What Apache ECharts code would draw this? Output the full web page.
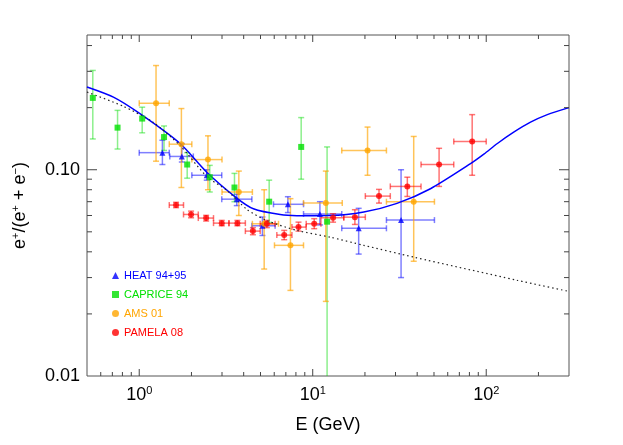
<!DOCTYPE html>
<html>
<head>
<meta charset="utf-8">
<script src="https://cdn.jsdelivr.net/npm/echarts@6/dist/echarts.min.js"></script>
<style>
html, body { margin: 0; padding: 0; background: #fff; }
#main { width: 623px; height: 445px; }
</style>
</head>
<body>
<div id="main"></div>
<script>
// positron fraction e+/(e+ + e-) against energy, log-log
// rows: [E, ratio, E low, E high, ratio low, ratio high]
var heat = [
  [1.36, 0.121, 1.0, 1.49, 0.106, 0.139],
  [1.76, 0.116, 1.50, 2.05, 0.109, 0.134],
  [2.45, 0.094, 2.01, 2.99, 0.089, 0.100],
  [3.65, 0.072, 2.99, 4.46, 0.067, 0.076],
  [5.13, 0.0535, 4.46, 6.07, 0.048, 0.059],
  [7.19, 0.068, 5.94, 8.85, 0.062, 0.074],
  [11.0, 0.061, 8.85, 14.7, 0.054, 0.070],
  [18.4, 0.052, 14.7, 26.6, 0.039, 0.065],
  [32.3, 0.057, 26.6, 50.3, 0.030, 0.100]
];
// CAPRICE has no energy bins, so low/high E equal E
var caprice = [
  [0.54, 0.223, 0.54, 0.54, 0.141, 0.303],
  [0.75, 0.160, 0.75, 0.75, 0.126, 0.194],
  [1.04, 0.177, 1.04, 1.04, 0.151, 0.201],
  [1.39, 0.144, 1.39, 1.39, 0.124, 0.163],
  [1.89, 0.106, 1.89, 1.89, 0.091, 0.121],
  [2.55, 0.092, 2.55, 2.55, 0.078, 0.105],
  [3.54, 0.082, 3.54, 3.54, 0.070, 0.096],
  [5.61, 0.070, 5.61, 5.61, 0.0555, 0.089],
  [8.58, 0.129, 8.58, 8.58, 0.090, 0.179],
  [12.1, 0.056, 12.1, 12.1, 0.005, 0.129]
];
var ams = [
  [1.25, 0.210, 1.0, 1.49, 0.110, 0.320],
  [1.75, 0.133, 1.49, 2.01, 0.082, 0.198],
  [2.49, 0.112, 2.01, 3.0, 0.080, 0.146],
  [3.75, 0.078, 3.0, 4.49, 0.060, 0.0985],
  [5.25, 0.0547, 4.49, 6.35, 0.033, 0.080],
  [7.44, 0.043, 6.02, 8.85, 0.026, 0.0724],
  [11.9, 0.069, 8.85, 14.8, 0.023, 0.0985],
  [20.7, 0.124, 14.7, 26.6, 0.094, 0.161],
  [38.2, 0.070, 26.6, 50.3, 0.036, 0.145]
];
var pamela = [
  [1.63, 0.0674, 1.49, 1.80, 0.0655, 0.0695],
  [1.99, 0.0607, 1.80, 2.19, 0.0585, 0.063],
  [2.43, 0.0583, 2.19, 2.68, 0.0564, 0.0601],
  [2.99, 0.0551, 2.68, 3.29, 0.0535, 0.0568],
  [3.68, 0.0551, 3.29, 4.09, 0.0535, 0.0568],
  [4.52, 0.0504, 4.09, 4.98, 0.0484, 0.0524],
  [5.44, 0.0547, 4.98, 6.07, 0.0524, 0.0568],
  [6.85, 0.0482, 6.21, 7.59, 0.0458, 0.0508],
  [8.28, 0.0527, 7.59, 9.17, 0.0504, 0.0557],
  [10.2, 0.0547, 9.17, 11.15, 0.0518, 0.0579],
  [13.1, 0.0585, 11.15, 15.1, 0.0557, 0.0612],
  [17.5, 0.0589, 15.1, 20.1, 0.0543, 0.064],
  [24.1, 0.0745, 20.1, 28.0, 0.0689, 0.0803],
  [35.1, 0.083, 28.0, 42.1, 0.0742, 0.092],
  [53.5, 0.106, 42.1, 65.0, 0.083, 0.127],
  [83.0, 0.137, 65.0, 100, 0.094, 0.185]
];

// model curves [E, ratio]
var modelCurve = [
  [0.5, 0.252], [0.71, 0.225], [1.01, 0.187], [1.72, 0.134], [2.45, 0.0973],
  [3.65, 0.0729], [4.55, 0.0647], [6.49, 0.0606], [8.11, 0.0599], [12.6, 0.0600],
  [19.7, 0.0624], [30.6, 0.0687], [47.7, 0.0809], [81.2, 0.107], [96.9, 0.119],
  [116, 0.134], [144, 0.152], [180, 0.170], [225, 0.185], [300, 0.200]
];
var secondaryCurve = [
  [0.5, 0.238], [0.81, 0.203], [1.2, 0.170], [1.72, 0.131], [2.45, 0.0928],
  [3.2, 0.0794], [4.17, 0.0643], [5.44, 0.0567], [8.11, 0.0508], [12.6, 0.0471],
  [19.7, 0.043], [38.2, 0.0377], [151, 0.0291], [300, 0.0257]
];

// axis limits and tick marks
var xRange = [0.5, 300];
var yRange = [0.01, 0.45];
var xTicks = [0.6, 0.7, 0.8, 0.9, 1, 2, 3, 4, 5, 6, 7, 8, 9, 10, 20, 30, 40, 50, 60, 70, 80, 90, 100, 200];
var xMajor = [1, 10, 100];
var yTicks = [0.02, 0.03, 0.04, 0.05, 0.06, 0.07, 0.08, 0.09, 0.1, 0.2, 0.3, 0.4];
var yMajor = [0.1];

var font = 'Liberation Sans';

function seg(x1, y1, x2, y2, color, w) {
  return { type: 'line', shape: { x1: x1, y1: y1, x2: x2, y2: y2 }, style: { stroke: color, lineWidth: w } };
}

function errorBars(color) {
  return function (params, api) {
    var x = api.value(0), y = api.value(1);
    var c = api.coord([x, y]);
    var cap = 3;
    var out = [];
    if (api.value(2) !== api.value(3)) {
      var l = api.coord([api.value(2), y])[0];
      var r = api.coord([api.value(3), y])[0];
      out.push(seg(l, c[1], r, c[1], color, 1.5));
      out.push(seg(l, c[1] - cap, l, c[1] + cap, color, 1.5));
      out.push(seg(r, c[1] - cap, r, c[1] + cap, color, 1.5));
    }
    var lo = api.coord([x, api.value(4)])[1];
    var hi = api.coord([x, api.value(5)])[1];
    out.push(seg(c[0], lo, c[0], hi, color, 1.5));
    out.push(seg(c[0] - cap, lo, c[0] + cap, lo, color, 1.5));
    out.push(seg(c[0] - cap, hi, c[0] + cap, hi, color, 1.5));
    return { type: 'group', children: out };
  };
}

function drawTicks(params, api) {
  var out = [];
  var col = '#444';
  xTicks.forEach(function (v) {
    var len = xMajor.indexOf(v) >= 0 ? 7 : 4;
    var b = api.coord([v, yRange[0]]);
    var t = api.coord([v, yRange[1]]);
    out.push(seg(b[0], b[1], b[0], b[1] - len, col, 1));
    out.push(seg(t[0], t[1], t[0], t[1] + len, col, 1));
  });
  yTicks.forEach(function (v) {
    var len = yMajor.indexOf(v) >= 0 ? 10 : 5;
    var l = api.coord([xRange[0], v]);
    var r = api.coord([xRange[1], v]);
    out.push(seg(l[0], l[1], l[0] + len, l[1], col, 1));
    out.push(seg(r[0], r[1], r[0] - len, r[1], col, 1));
  });
  return { type: 'group', children: out };
}

function isPow10(v) {
  var lg = Math.log10(v);
  return Math.abs(lg - Math.round(lg)) < 1e-6;
}

var sets = [
  { name: 'HEAT 94+95', data: heat, symbol: 'triangle', color: '#0000ff', bar: 'rgba(0,0,255,0.5)' },
  { name: 'CAPRICE 94', data: caprice, symbol: 'rect', color: '#00e000', bar: 'rgba(0,220,0,0.45)' },
  { name: 'AMS 01', data: ams, symbol: 'circle', color: '#ffa500', bar: 'rgba(255,165,0,0.65)' },
  { name: 'PAMELA 08', data: pamela, symbol: 'circle', color: '#ff0000', bar: 'rgba(255,0,0,0.55)' }
];

var series = [];
sets.forEach(function (s) {
  series.push({
    name: s.name + ' err',
    type: 'custom',
    renderItem: errorBars(s.bar),
    data: s.data,
    encode: { x: 0, y: 1 },
    clip: true,
    silent: true,
    z: 2
  });
});
series.push({
  name: 'model',
  type: 'line',
  data: modelCurve,
  smooth: 0.25,
  showSymbol: false,
  lineStyle: { color: '#0000ff', width: 1.5 },
  z: 3
});
series.push({
  name: 'secondary',
  type: 'line',
  data: secondaryCurve,
  smooth: 0.25,
  showSymbol: false,
  lineStyle: { color: '#222', width: 1.2, type: [1.5, 3] },
  z: 3
});
sets.forEach(function (s) {
  series.push({
    name: s.name,
    type: 'scatter',
    data: s.data.map(function (d) { return [d[0], d[1]]; }),
    symbol: s.symbol,
    symbolSize: 6,
    itemStyle: { color: s.color },
    z: 4
  });
});
series.push({
  name: 'ticks',
  type: 'custom',
  renderItem: drawTicks,
  data: [[1, 0.1]],
  clip: false,
  silent: true,
  z: 5
});

var chart = echarts.init(document.getElementById('main'));
chart.setOption({
  animation: false,
  backgroundColor: '#fff',
  grid: { left: 87, right: 54, top: 35, bottom: 69, show: true, borderColor: '#555', borderWidth: 1 },
  legend: {
    orient: 'vertical',
    left: 107,
    top: 265,
    itemWidth: 7,
    itemHeight: 7,
    itemGap: 8,
    textStyle: { fontFamily: font, fontSize: 11 },
    data: sets.map(function (s) {
      return { name: s.name, icon: s.symbol, textStyle: { color: s.color } };
    })
  },
  xAxis: {
    type: 'log',
    logBase: 10,
    min: xRange[0],
    max: xRange[1],
    name: 'E (GeV)',
    nameLocation: 'middle',
    nameGap: 40,
    nameTextStyle: { fontFamily: font, fontSize: 18, color: '#000' },
    axisLine: { show: false },
    axisTick: { show: false },
    splitLine: { show: false },
    axisLabel: {
      margin: 9,
      formatter: function (v) {
        if (!isPow10(v)) return '';
        return '{b|10}{s|' + Math.round(Math.log10(v)) + '}';
      },
      rich: {
        b: { fontFamily: font, fontSize: 18, color: '#000', lineHeight: 20 },
        s: { fontFamily: font, fontSize: 11, color: '#000', lineHeight: 12, verticalAlign: 'top' }
      }
    }
  },
  yAxis: {
    type: 'log',
    logBase: 10,
    min: yRange[0],
    max: yRange[1],
    name: '{n|e}{s|+}{n|/(e}{s|+}{n| + e}{s|\u2212}{n|)}',
    nameLocation: 'middle',
    nameRotate: 90,
    nameGap: 57,
    nameTextStyle: {
      rich: {
        n: { fontFamily: font, fontSize: 18, color: '#000', lineHeight: 20 },
        s: { fontFamily: font, fontSize: 11, color: '#000', lineHeight: 12, verticalAlign: 'top' }
      }
    },
    axisLine: { show: false },
    axisTick: { show: false },
    splitLine: { show: false },
    axisLabel: {
      margin: 7,
      fontFamily: font,
      fontSize: 18,
      color: '#000',
      formatter: function (v) {
        return isPow10(v) ? v.toFixed(2) : '';
      }
    }
  },
  series: series
});
</script>
</body>
</html>
